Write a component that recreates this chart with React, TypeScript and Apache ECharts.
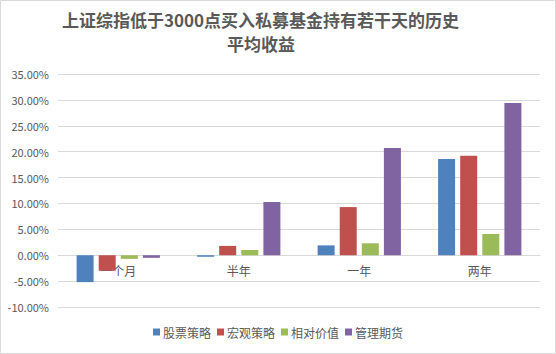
import React, { useEffect, useRef } from "react";
import * as echarts from "echarts";

const categories = ["一个月", "半年", "一年", "两年"];
const seriesNames = ["股票策略", "宏观策略", "相对价值", "管理期货"];
const stockValues = [-5.2, -0.3, 1.9, 18.6];
const macroValues = [-3.0, 1.8, 9.3, 19.2];
const relativeValues = [-0.7, 1.0, 2.3, 4.1];
const futuresValues = [-0.5, 10.3, 20.7, 29.4];
const colors = ["#4f81bd", "#c0504d", "#9bbb59", "#8064a2"];
const titleLine1 = "上证综指低于3000点买入私募基金持有若干天的历史";
const titleLine2 = "平均收益";

const FONT = '"Microsoft YaHei", "Noto Sans CJK SC", sans-serif';

export default function App() {
  const ref = useRef<HTMLDivElement>(null);
  useEffect(() => {
    if (!ref.current) return;
    const chart = echarts.init(ref.current, undefined, { renderer: "svg" });
    const data = [stockValues, macroValues, relativeValues, futuresValues];
    const gridTop = 74;
    const gridBottom = 47;
    const gridH = 354 - gridTop - gridBottom;
    const yMin = -10;
    const yMax = 35;
    const zeroOffset = -(gridH * (0 - yMin)) / (yMax - yMin);
    const titleStyle = {
      fontFamily: FONT,
      fontSize: 17,
      fontWeight: "bold",
      color: "#595959",
      lineHeight: 17,
    };
    chart.setOption({
      animation: false,
      backgroundColor: "#ffffff",
      graphic: [
        {
          type: "rect",
          shape: { x: 0.5, y: 0.5, width: 555, height: 353 },
          style: { fill: "none", stroke: "#d9d9d9", lineWidth: 1 },
          silent: true,
        },
      ],
      title: [
        { text: titleLine1, left: 62, top: 11, padding: 0, textStyle: titleStyle },
        { text: titleLine2, left: 227, top: 35, padding: 0, textStyle: titleStyle },
      ],
      legend: {
        bottom: 11,
        left: "center",
        itemWidth: 7,
        itemHeight: 7,
        itemGap: 6,
        icon: "rect",
        textStyle: { fontFamily: FONT, fontSize: 12, color: "#595959", padding: [0, 0, 0, -2] },
        data: seriesNames,
      },
      grid: { left: 58, right: 16, top: gridTop, bottom: gridBottom, containLabel: false },
      xAxis: {
        type: "category",
        data: categories,
        offset: zeroOffset,
        axisLine: { onZero: false, lineStyle: { color: "#d9d9d9" } },
        axisTick: { show: false },
        axisLabel: { fontFamily: FONT, fontSize: 12, color: "#595959", margin: 9 },
        z: 1,
      },
      yAxis: {
        type: "value",
        min: yMin,
        max: yMax,
        interval: 5,
        axisLine: { show: false },
        axisTick: { show: false },
        splitLine: { lineStyle: { color: "#d9d9d9" } },
        axisLabel: {
          fontFamily: FONT,
          fontSize: 11,
          color: "#595959",
          margin: 9,
          formatter: (v: number) => v.toFixed(2) + "%",
        },
      },
      series: seriesNames.map((name, i) => ({
        name,
        type: "bar",
        data: data[i],
        barWidth: 17,
        barGap: "30%",
        itemStyle: { color: colors[i] },
        z: 2,
      })),
    });
    return () => chart.dispose();
  }, []);
  return (
    <div style={{ position: "absolute", left: 0, top: 0, width: 556, height: 354 }}>
      <div ref={ref} style={{ width: 556, height: 354 }} />
    </div>
  );
}
